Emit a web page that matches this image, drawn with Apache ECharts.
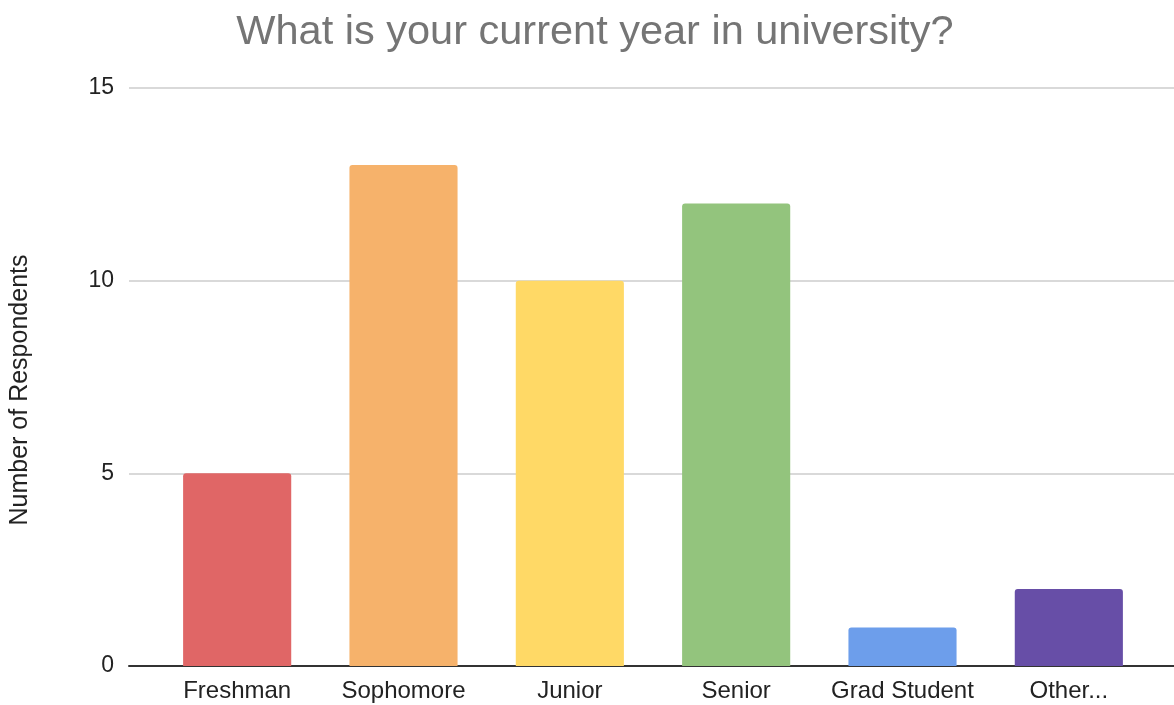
<!DOCTYPE html>
<html>
<head>
<meta charset="utf-8">
<script src="https://cdn.jsdelivr.net/npm/echarts@6/dist/echarts.min.js"></script>
<style>
html,body{margin:0;padding:0;background:#fff;}
#chart{width:1174px;height:705px;}
</style>
</head>
<body>
<div id="chart"></div>
<script>
const titleText = 'What is your current year in university?';
const yAxisName = 'Number of Respondents';
const categories = ['Freshman', 'Sophomore', 'Junior', 'Senior', 'Grad Student', 'Other...'];
const respondents = [5, 13, 10, 12, 1, 2];
const barColors = ['#e06666', '#f6b26b', '#ffd966', '#93c47d', '#6d9eeb', '#674ea7'];
const yMin = 0, yMax = 15, yStep = 5;

const font = '"Liberation Sans", Arial, sans-serif';
const chart = echarts.init(document.getElementById('chart'), null, {renderer: 'canvas'});
chart.setOption({
  animation: false,
  backgroundColor: '#ffffff',
  title: {
    text: titleText,
    left: 590,
    textAlign: 'center',
    top: 7,
    textStyle: {fontFamily: font, fontSize: 41.5, fontWeight: 'normal', color: '#757575'}
  },
  grid: [
    {left: 128, right: 0, top: 88, bottom: 39},
    {left: 154, right: 22, top: 88, bottom: 39}
  ],
  xAxis: [
    {
      gridIndex: 0, type: 'value', min: 0, max: 1,
      axisLine: {show: true, onZero: false, lineStyle: {color: '#333333', width: 2}},
      axisTick: {show: false}, axisLabel: {show: false}, splitLine: {show: false}
    },
    {
      gridIndex: 1, type: 'category', data: categories,
      axisLine: {show: false}, axisTick: {show: false},
      axisLabel: {interval: 0, margin: 13, fontFamily: font, fontSize: 24, color: '#222222'}
    }
  ],
  yAxis: [
    {
      gridIndex: 0, type: 'value', min: yMin, max: yMax, interval: yStep,
      name: yAxisName, nameLocation: 'middle', nameGap: 96,
      nameTextStyle: {fontFamily: font, fontSize: 25, color: '#222222', padding: [0, 26, 0, 0]},
      axisLine: {show: false}, axisTick: {show: false},
      axisLabel: {margin: 15, fontFamily: font, fontSize: 23, color: '#222222'},
      splitLine: {show: true, lineStyle: {color: '#cccccc', width: 1.5}}
    },
    {
      gridIndex: 1, type: 'value', min: yMin, max: yMax, interval: yStep,
      show: false, splitLine: {show: false}
    }
  ],
  series: [{
    type: 'bar',
    xAxisIndex: 1, yAxisIndex: 1,
    barWidth: '65%',
    z: 3,
    data: respondents.map((v, i) => ({value: v, itemStyle: {color: barColors[i]}})),
    itemStyle: {borderRadius: [3, 3, 0, 0]}
  }]
});
</script>
</body>
</html>
